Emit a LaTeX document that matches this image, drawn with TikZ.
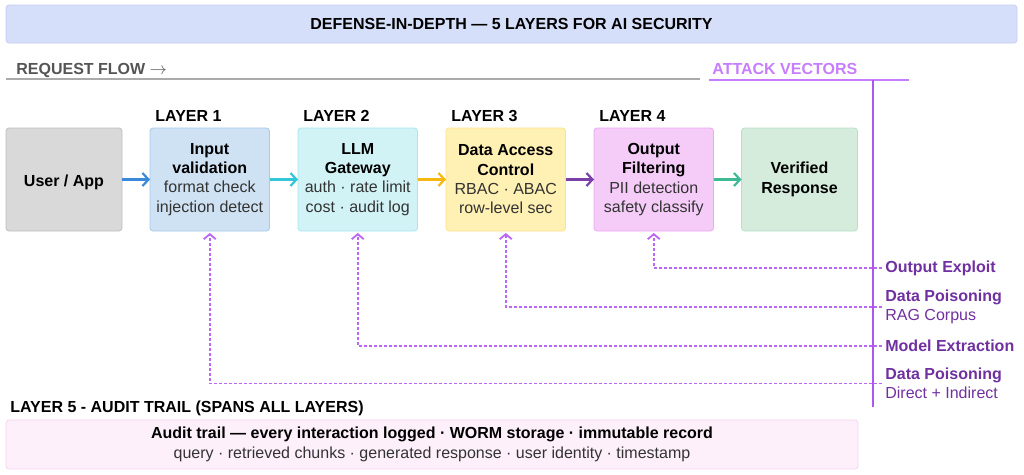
\documentclass[tikz,border=0pt]{standalone}
\usepackage{fontspec}
\setmainfont{Liberation Sans}
\usetikzlibrary{arrows.meta,positioning,calc}
\tikzset{every picture/.style={line width=0.75pt}}

% 颜色
\definecolor{titlefill}{HTML}{D6DFFA}
\definecolor{titledraw}{HTML}{C3CEF3}
\definecolor{flowgray}{HTML}{555555}
\definecolor{flowline}{HTML}{AAAAAA}
\definecolor{atklight}{HTML}{C77DFF}
\definecolor{atkdash}{HTML}{BB66F5}
\definecolor{atkline}{HTML}{A958F0}
\definecolor{atkdark}{HTML}{7030A0}
\definecolor{subgray}{HTML}{333333}
\definecolor{userfill}{HTML}{D9D9D9}\definecolor{userdraw}{HTML}{BFBFBF}
\definecolor{onefill}{HTML}{CFE2F3}\definecolor{onedraw}{HTML}{A5C8EC}
\definecolor{twofill}{HTML}{D2F3F6}\definecolor{twodraw}{HTML}{A6E7EE}
\definecolor{threefill}{HTML}{FFF0B3}\definecolor{threedraw}{HTML}{FDE38F}
\definecolor{fourfill}{HTML}{F5CCF8}\definecolor{fourdraw}{HTML}{E8A9F0}
\definecolor{okfill}{HTML}{D5ECDD}\definecolor{okdraw}{HTML}{B8DFC6}
\definecolor{auditfill}{HTML}{FDF0FB}\definecolor{auditdraw}{HTML}{F7D3F2}
\definecolor{arrblue}{HTML}{3B8AD9}
\definecolor{arrcyan}{HTML}{33C6D6}
\definecolor{arramber}{HTML}{F6B80F}
\definecolor{arrpurple}{HTML}{7B3FA9}
\definecolor{arrgreen}{HTML}{3DBA94}

\newcommand{\dimtxt}[1]{{\color{subgray}#1}}

\tikzset{
  txt/.style={font=\fontsize{16}{19.3}\selectfont},
  layerbox/.style={txt, rounded corners=3pt, minimum width=119.5pt, minimum height=103pt,
    align=center, inner sep=2pt, outer sep=0pt, execute at begin node={\rule{0pt}{17pt}}},
  layerlbl/.style={txt, font=\fontsize{16}{19.3}\selectfont\bfseries, inner sep=0pt, anchor=base west},
  flow/.style={line width=2.2pt, -{Straight Barb[length=6pt,width=13pt,line width=2.2pt]}},
  atk/.style={line width=1.8pt, atkdash, dash pattern=on 3pt off 2pt,
    -{Straight Barb[length=5pt,width=12pt,line width=1.8pt]}},
  vec/.style={txt, atkdark, align=left, anchor=west, inner xsep=3pt, inner ysep=0pt}
}

\begin{document}
\begin{tikzpicture}[x=1pt,y=-1pt]
    \useasboundingbox (0,0) rectangle (1024,474);

    % 标题
    \node[txt, fill=titlefill, draw=titledraw, rounded corners=3pt, minimum width=1011pt,
      minimum height=38pt] (title) at (511.5,24) {\textbf{DEFENSE-IN-DEPTH — 5 LAYERS FOR AI SECURITY}};

    % 请求流 / 攻击向量 标题
    \node[layerlbl, flowgray] (reqflow) at (16,74) {REQUEST FLOW $\rightarrow$};
    \draw[flowline, line width=2pt] (6,78.5) -- (700,78.5);
    \node[layerlbl, atklight] (atkhead) at (712,74) {ATTACK VECTORS};
    \draw[atklight, line width=2pt] (709,79.5) -- (909,79.5);
    \draw[atkline, line width=1.8pt] (873,79.5) -- (873,407);

    % 各层方框
    \node[layerbox, fill=userfill, draw=userdraw, minimum width=116pt] (user) at (64,179.5) {\textbf{User / App}};
    \node[layerbox, fill=onefill, draw=onedraw, right=28pt of user] (lay1)
      {\textbf{Input}\\\textbf{validation}\\\dimtxt{format check}\\\dimtxt{injection detect}};
    \node[layerbox, fill=twofill, draw=twodraw, right=28.5pt of lay1] (lay2)
      {\textbf{LLM}\\\textbf{Gateway}\\\dimtxt{auth · rate limit}\\\dimtxt{cost · audit log}};
    \node[layerbox, fill=threefill, draw=threedraw, right=28.5pt of lay2] (lay3)
      {\textbf{Data Access}\\\textbf{Control}\\\dimtxt{RBAC · ABAC}\\\dimtxt{row-level sec}};
    \node[layerbox, fill=fourfill, draw=fourdraw, right=28.5pt of lay3] (lay4)
      {\textbf{Output}\\\textbf{Filtering}\\\dimtxt{PII detection}\\\dimtxt{safety classify}};
    \node[layerbox, fill=okfill, draw=okdraw, minimum width=116pt, right=28pt of lay4] (verified)
      {\textbf{Verified}\\\textbf{Response}};

    % 层标签
    \node[layerlbl] (l1) at ([xshift=5pt,yshift=7pt]lay1.north west) {LAYER 1};
    \node[layerlbl] (l2) at ([xshift=5pt,yshift=7pt]lay2.north west) {LAYER 2};
    \node[layerlbl] (l3) at ([xshift=5pt,yshift=7pt]lay3.north west) {LAYER 3};
    \node[layerlbl] (l4) at ([xshift=5pt,yshift=7pt]lay4.north west) {LAYER 4};

    % 请求流箭头
    \draw[flow, arrblue] (user) -- (lay1);
    \draw[flow, arrcyan] (lay1) -- (lay2);
    \draw[flow, arramber] (lay2) -- (lay3);
    \draw[flow, arrpurple] (lay3) -- (lay4);
    \draw[flow, arrgreen] (lay4) -- (verified);

    % 攻击向量
    \node[vec] (outexp) at (882,268) {\textbf{Output Exploit}};
    \node[vec] (ragpois) at (882,307) {\textbf{Data Poisoning}\\RAG Corpus};
    \node[vec] (modext) at (882,346) {\textbf{Model Extraction}};
    \node[vec] (datapois) at (882,383.5) {\textbf{Data Poisoning}\\Direct + Indirect};
    \draw[atk] (outexp.west) -| ([yshift=-2pt]lay4.south);
    \draw[atk] (ragpois.west) -| ([yshift=-2pt]lay3.south);
    \draw[atk] (modext.west) -| ([yshift=-2pt]lay2.south);
    \draw[atk] (datapois.west) -| ([yshift=-2pt]lay1.south);

    % 第五层 审计
    \node[layerlbl, anchor=west] (l5) at (10,408) {LAYER 5 - AUDIT TRAIL (SPANS ALL LAYERS)};
    \node[txt, fill=auditfill, draw=auditdraw, rounded corners=3pt, minimum width=852pt,
      minimum height=49pt, align=center, inner sep=0pt] (audit) at (432,444.5)
      {\textbf{Audit trail — every interaction logged · WORM storage · immutable record}\\
       \dimtxt{query · retrieved chunks · generated response · user identity · timestamp}};
\end{tikzpicture}
\end{document}
